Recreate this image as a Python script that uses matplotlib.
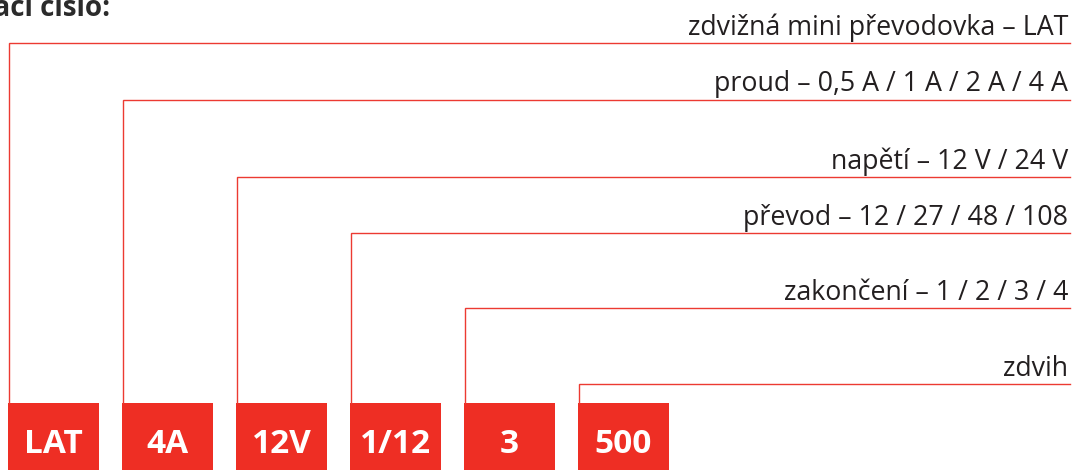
import matplotlib.pyplot as plt
from matplotlib.patches import Rectangle

# code parts shown in red boxes, and the description for each
codes = ["LAT", "4A", "12V", "1/12", "3", "500"]
labels = [
    "zdvižná mini převodovka – LAT",
    "proud – 0,5 A / 1 A / 2 A / 4 A",
    "napětí – 12 V / 24 V",
    "převod – 12 / 27 / 48 / 108",
    "zakončení – 1 / 2 / 3 / 4",
    "zdvih",
]
title = "Objednací číslo:"

# layout (pixels)
W, H = 1074, 470
box_x0, box_step, box_w = 8, 114, 91
box_top = 403
line_y = [42.5, 99.5, 177, 233, 308, 384]
line_end = 1070
red = "#ee2e24"
line_red = "#ec3a32"

fig = plt.figure(figsize=(W / 100, H / 100), dpi=100)
ax = fig.add_axes([0, 0, 1, 1])
ax.set_xlim(0, W)
ax.set_ylim(H, 0)
ax.axis("off")

for i, (code, lab) in enumerate(zip(codes, labels)):
    left = box_x0 + i * box_step
    ax.add_patch(Rectangle((left, box_top), box_w, 80, color=red, lw=0))
    ax.text(left + box_w / 2, 453, code, color="white", fontsize=24,
            fontfamily="Open Sans", fontweight="bold", ha="center", va="baseline")
    ly = line_y[i]
    ax.plot([left + 1, left + 1, line_end], [box_top, ly, ly],
            color=line_red, lw=1.0, solid_joinstyle="miter")
    ax.text(line_end - 2, ly - 8, lab, color="#231f20", fontsize=19.3,
            fontfamily="Open Sans", ha="right", va="baseline")

# heading, cut off by the left edge in the original
ax.text(110, 16, title, color="#2b2b2b", fontsize=20, fontfamily="Open Sans",
        fontweight="bold", ha="right", va="baseline")

fig.savefig("out.png", dpi=100)
